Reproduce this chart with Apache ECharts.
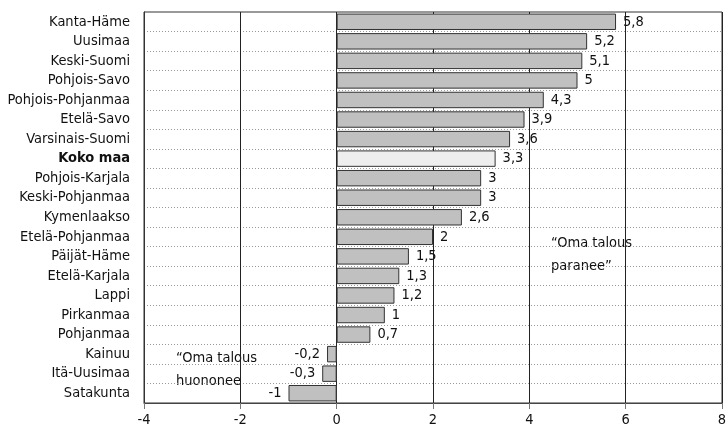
<!DOCTYPE html>
<html>
<head>
<meta charset="utf-8">
<script src="https://cdn.jsdelivr.net/npm/echarts@6/dist/echarts.min.js"></script>
<style>html,body{margin:0;padding:0;background:#fff}#c{width:726px;height:435px}</style>
</head>
<body>
<div id="c"></div>
<script>
const categories = ["Kanta-Häme","Uusimaa","Keski-Suomi","Pohjois-Savo","Pohjois-Pohjanmaa","Etelä-Savo","Varsinais-Suomi","Koko maa","Pohjois-Karjala","Keski-Pohjanmaa","Kymenlaakso","Etelä-Pohjanmaa","Päijät-Häme","Etelä-Karjala","Lappi","Pirkanmaa","Pohjanmaa","Kainuu","Itä-Uusimaa","Satakunta"];
const values = [5.8,5.2,5.1,5,4.3,3.9,3.6,3.3,3,3,2.6,2,1.5,1.3,1.2,1,0.7,-0.2,-0.3,-1];
const highlight = "Koko maa";
const xTicks = {min:-4,max:8,interval:2};
const noteUp = "\u201cOma talous\nparanee\u201d";
const noteDown = "\u201cOma talous\nhuononee";

const FONT = '"Liberation Sans Narrow","DejaVu Sans Condensed",sans-serif';
const chart = echarts.init(document.getElementById('c'));
chart.setOption({
  animation:false,
  grid:{left:144,right:4,top:12,bottom:32,outerBoundsMode:'none',containLabel:false,show:true,borderColor:'#333',borderWidth:1,backgroundColor:'transparent'},
  xAxis:{type:'value',min:xTicks.min,max:xTicks.max,interval:xTicks.interval,
    axisLine:{show:true,lineStyle:{color:'#444',width:1}},
    axisTick:{show:true,length:6,lineStyle:{color:'#777'}},
    axisLabel:{color:'#111',fontFamily:FONT,fontSize:14.5,margin:10},
    splitLine:{show:true,lineStyle:{color:'#222',width:1}}},
  yAxis:{type:'category',data:categories,inverse:true,
    axisLine:{show:true,onZero:false,lineStyle:{color:'#333'}},
    axisTick:{show:false},
    axisLabel:{color:'#111',fontFamily:FONT,fontSize:14.5,margin:14,
      formatter:v=>v===highlight?'{b|'+v+'}':v,
      rich:{b:{fontWeight:'bold',fontFamily:FONT,fontSize:14.5,color:'#111'}}},
    splitLine:{show:true,lineStyle:{color:'#999',type:[1,2],width:1}}},
  series:[{type:'bar',barCategoryGap:'16%',
    data:values.map((v,i)=>({value:v,
      itemStyle:{color:categories[i]===highlight?'#eeeeee':'#c0c0c0',borderColor:'#333',borderWidth:1},
      label:{position:v<0?'left':'right'}})),
    label:{show:true,distance:7,color:'#111',fontFamily:FONT,fontSize:14.5,
      formatter:p=>String(p.value).replace('.',',')}}],
  graphic:[
    {type:'text',left:551,top:232,style:{text:noteUp,font:'14.5px '+FONT,fill:'#111',lineHeight:23}},
    {type:'text',left:176,top:347,style:{text:noteDown,font:'14.5px '+FONT,fill:'#111',lineHeight:23}}
  ]
});
</script>
</body>
</html>
